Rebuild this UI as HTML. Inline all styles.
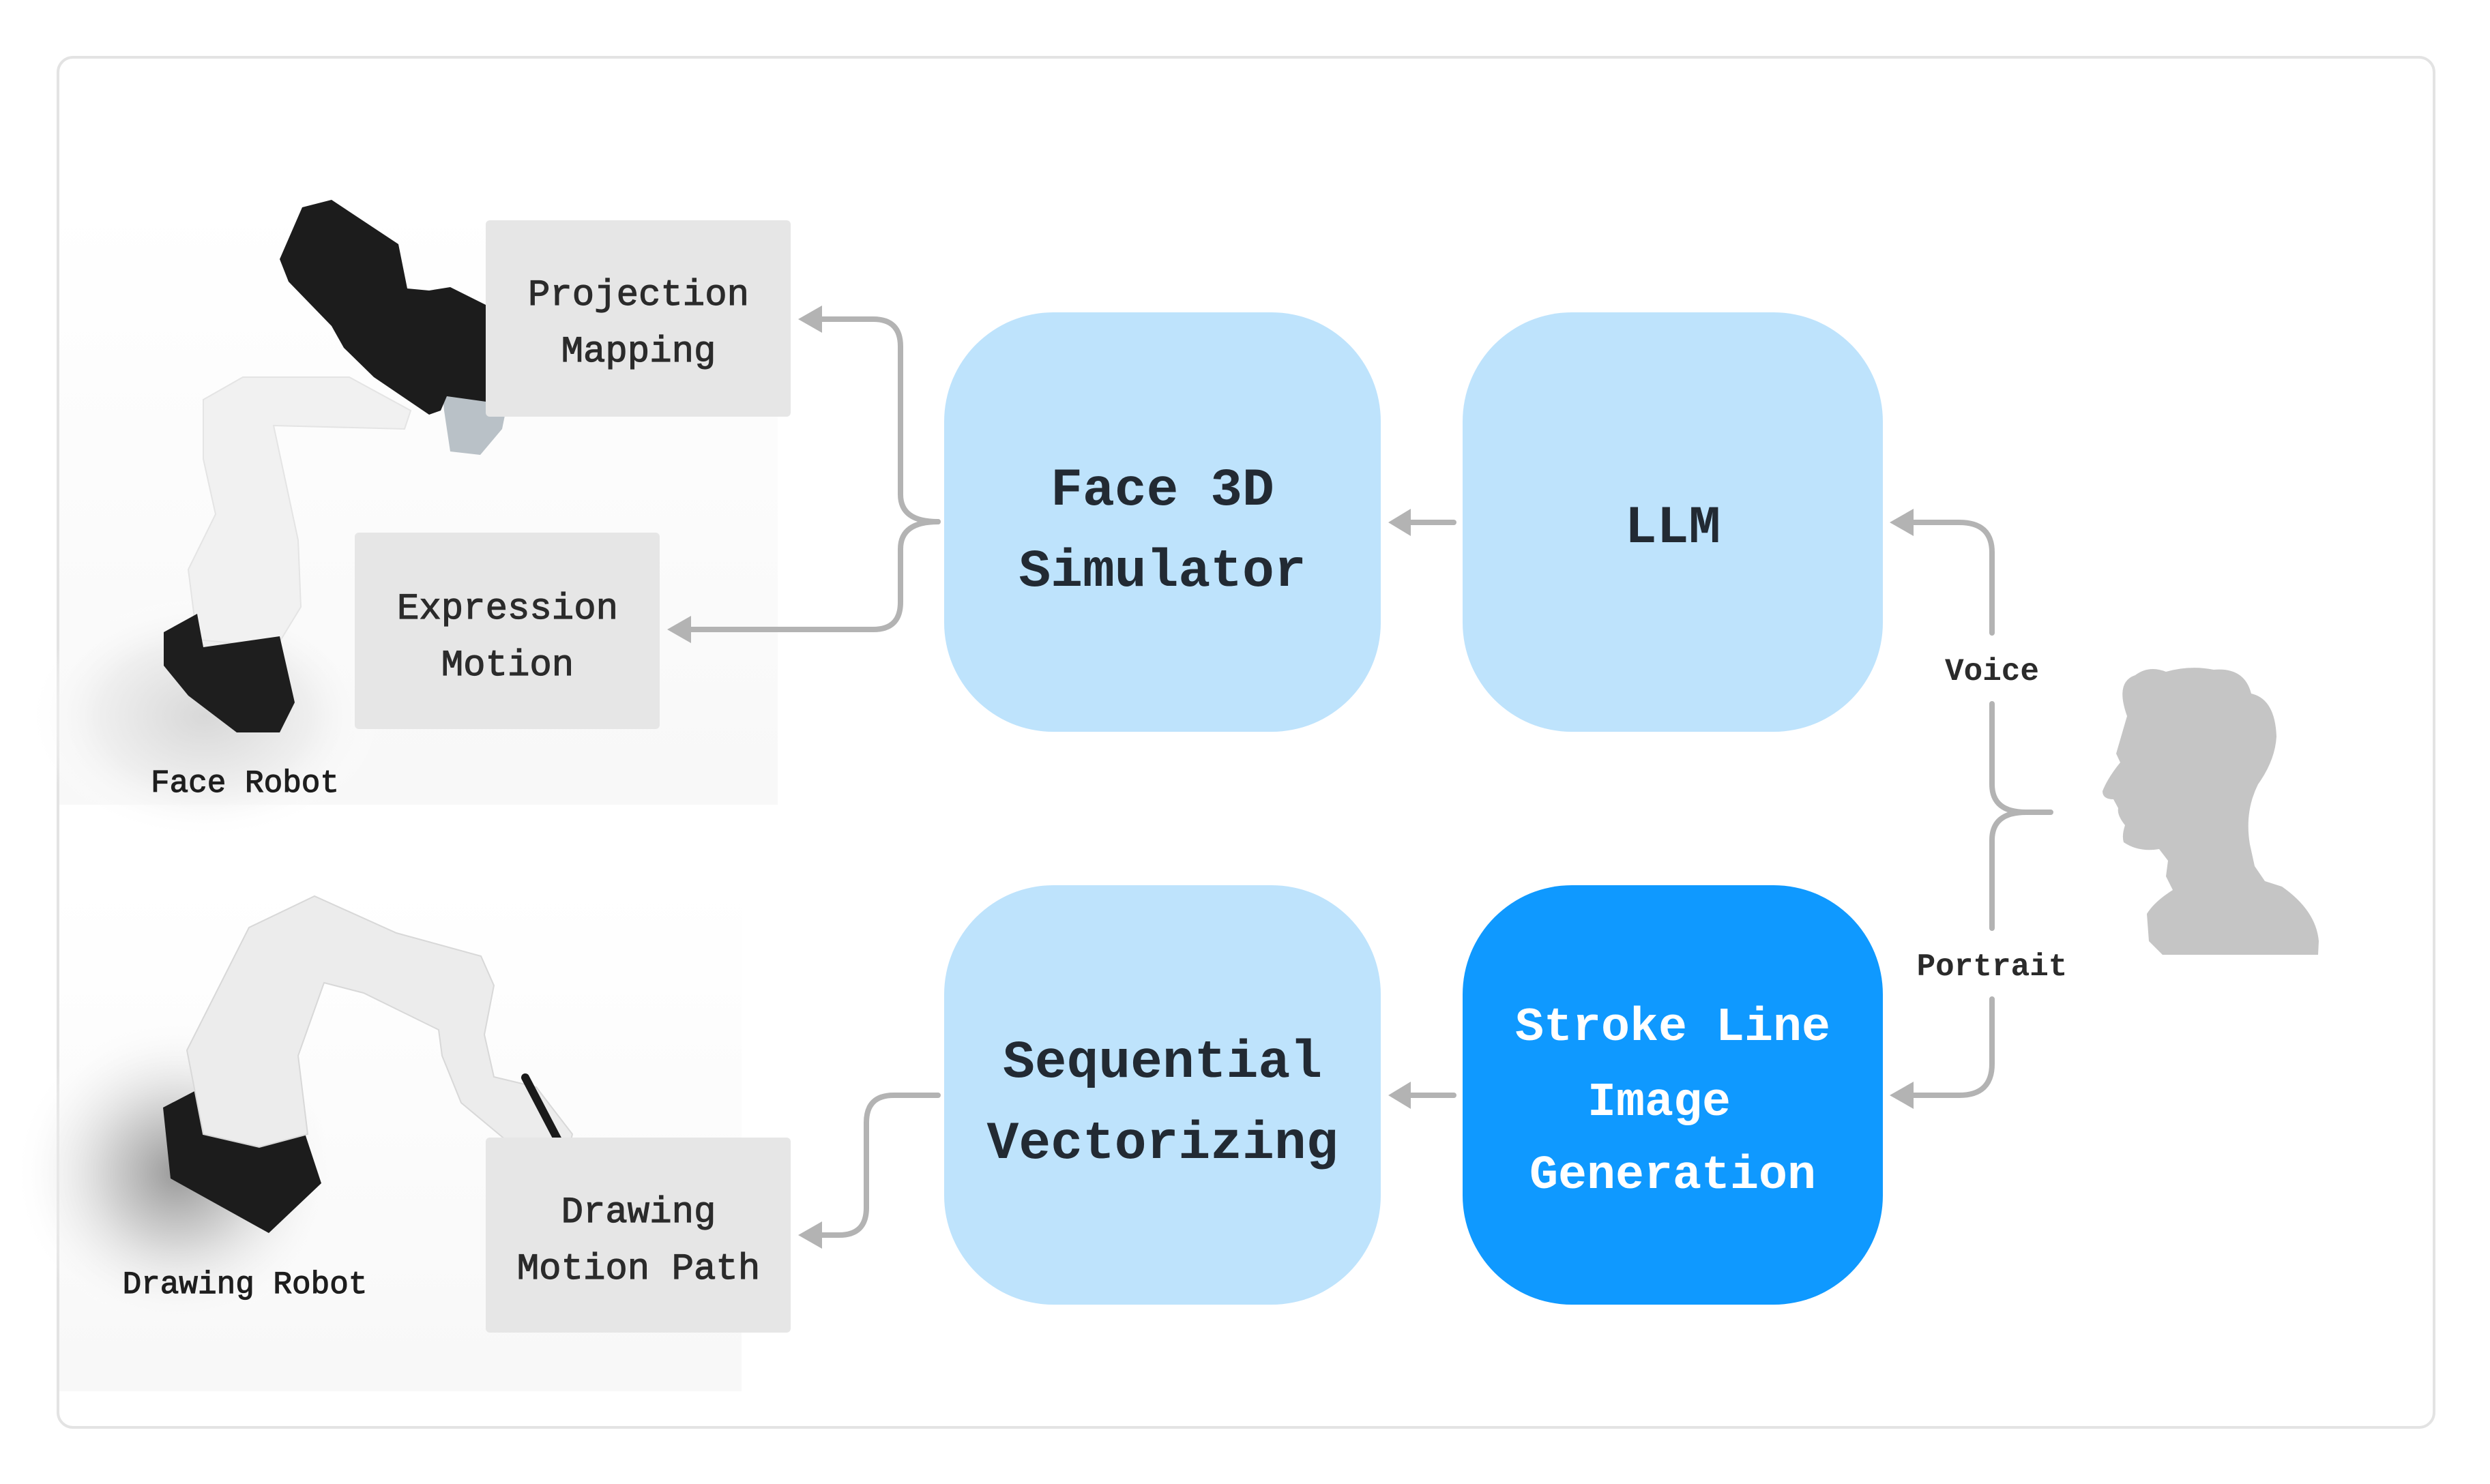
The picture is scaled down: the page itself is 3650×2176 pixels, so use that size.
<!DOCTYPE html>
<html><head><meta charset="utf-8"><style>
html,body{margin:0;padding:0;background:#fff;}
svg{display:block;}
.mono{font-family:"Liberation Mono",monospace;}
</style></head><body>
<svg width="3650" height="2176" viewBox="0 0 3650 2176" xmlns="http://www.w3.org/2000/svg">
<defs>
<radialGradient id="sh1" cx="0.5" cy="0.5" r="0.5">
<stop offset="0" stop-color="#d8d8d8"/><stop offset="0.6" stop-color="#efefef"/><stop offset="1" stop-color="#ffffff" stop-opacity="0"/>
</radialGradient>
<radialGradient id="sh2" cx="0.5" cy="0.5" r="0.5">
<stop offset="0" stop-color="#9a9a9a"/><stop offset="0.5" stop-color="#dddddd"/><stop offset="1" stop-color="#ffffff" stop-opacity="0"/>
</radialGradient>
<linearGradient id="bgp" x1="0" y1="0" x2="0" y2="1">
<stop offset="0" stop-color="#ffffff"/><stop offset="1" stop-color="#f6f6f6"/>
</linearGradient>
</defs>
<rect x="0" y="0" width="3650" height="2176" fill="#fff"/>
<rect x="85" y="84" width="3483" height="2009" rx="22" fill="#fff" stroke="#e3e3e3" stroke-width="4"/>

<rect x="87" y="300" width="1053" height="880" fill="url(#bgp)" opacity="0.8"/>
<ellipse cx="300" cy="1050" rx="260" ry="180" fill="url(#sh1)"/>
<rect x="87" y="1300" width="1000" height="740" fill="url(#bgp)" opacity="0.8"/>
<ellipse cx="260" cy="1720" rx="240" ry="230" fill="url(#sh2)"/>

<!-- face robot -->
<polygon points="298,586 356,553 512,553 602,602 593,629 401,624 437,792 441,890 405,949 289,938 276,835 316,754 298,673" fill="#f1f1f1" stroke="#e4e4e4" stroke-width="2"/>
<polygon points="240,927 289,900 298,949 410,933 432,1030 410,1074 347,1074 276,1020 240,976" fill="#1e1e1e"/>
<polygon points="646,543 758,521 736,629 704,667 660,662 651,602" fill="#b9c1c7"/>
<polygon points="410,380 443,304 486,293 584,358 597,423 629,426 660,421 740,461 760,521 754,586 727,591 655,581 646,602 629,608 548,553 504,510 486,478 423,413" fill="#1c1c1c"/>

<!-- drawing robot -->
<polygon points="239,1624 289,1598 442,1647 471,1735 394,1808 250,1728" fill="#1c1c1c"/>
<polygon points="274,1540 365,1360 461,1314 581,1368 705,1402 724,1445 710,1517 724,1579 786,1594 839,1663 829,1705 772,1697 676,1617 648,1548 643,1510 533,1456 475,1441 437,1548 451,1663 380,1682 298,1663" fill="#ececec" stroke="#d8d8d8" stroke-width="2"/>
<line x1="770" y1="1580" x2="836" y2="1706" stroke="#1a1a1a" stroke-width="12" stroke-linecap="round"/>

<rect x="712" y="323" width="447" height="288" rx="6" fill="#e6e6e6"/>
<rect x="520" y="781" width="447" height="288" rx="6" fill="#e6e6e6"/>
<rect x="712" y="1668" width="447" height="286" rx="6" fill="#e6e6e6"/>
<g class="mono" font-size="54" fill="#2b2b2b" text-anchor="middle" stroke="#2b2b2b" stroke-width="1.2">
<text x="936" y="447">Projection</text>
<text x="936" y="530">Mapping</text>
<text x="744" y="907">Expression</text>
<text x="744" y="990">Motion</text>
<text x="936" y="1792">Drawing</text>
<text x="936" y="1875">Motion Path</text>
</g>
<g class="mono" font-size="46" fill="#1e1e1e" text-anchor="middle" stroke="#1e1e1e" stroke-width="1.2">
<text x="359" y="1161">Face Robot</text>
<text x="359" y="1896">Drawing Robot</text>
</g>

<rect x="1384" y="458" width="640" height="615" rx="160" fill="#bee3fc"/>
<rect x="2144" y="458" width="616" height="615" rx="160" fill="#bee3fc"/>
<rect x="1384" y="1298" width="640" height="615" rx="160" fill="#bee3fc"/>
<rect x="2144" y="1298" width="616" height="615" rx="160" fill="#0f99ff"/>
<g class="mono" font-size="78" font-weight="bold" fill="#222a33" text-anchor="middle">
<text x="1704" y="740">Face 3D</text>
<text x="1704" y="859">Simulator</text>
<text x="2452" y="795">LLM</text>
<text x="1704" y="1579">Sequential</text>
<text x="1704" y="1698">Vectorizing</text>
</g>
<g class="mono" font-size="70" font-weight="bold" fill="#ffffff" text-anchor="middle">
<text x="2452" y="1525">Stroke Line</text>
<text x="2432" y="1635">Image</text>
<text x="2452" y="1742">Generation</text>
</g>

<g fill="none" stroke="#b3b3b3" stroke-width="8" stroke-linecap="round">
<line x1="2131" y1="766" x2="2060" y2="766"/>
<line x1="2131" y1="1606" x2="2060" y2="1606"/>
<path d="M1195,468 H1280 Q1320,468 1320,508 V725 Q1320,765 1375,765"/>
<path d="M1375,765 Q1320,765 1320,805 V883 Q1320,923 1280,923 H1003"/>
<path d="M1375,1606 H1310 Q1270,1606 1270,1646 V1771 Q1270,1811 1230,1811 H1195"/>
<path d="M2795,766 H2872 Q2920,766 2920,810 V928"/>
<path d="M2920,1032 V1150 Q2920,1191 2970,1191 H3006"/>
<path d="M2970,1191 Q2920,1191 2920,1232 V1361"/>
<path d="M2920,1465 V1560 Q2920,1606 2872,1606 H2795"/>
</g>
<g fill="#b3b3b3">
<polygon points="2035,766 2068,746 2068,786"/>
<polygon points="2035,1606 2068,1586 2068,1626"/>
<polygon points="1170,468 1205,448 1205,488"/>
<polygon points="978,923 1013,903 1013,943"/>
<polygon points="1170,1811 1205,1791 1205,1831"/>
<polygon points="2770,766 2805,746 2805,786"/>
<polygon points="2770,1606 2805,1586 2805,1626"/>
</g>
<g class="mono" font-size="46" font-weight="bold" fill="#2b2b2b" text-anchor="middle">
<text x="2920" y="997">Voice</text>
<text x="2920" y="1430">Portrait</text>
</g>

<path d="M3118,1050 Q3100,1000 3130,990 Q3150,975 3175,985 Q3210,975 3245,982 Q3290,978 3300,1017 Q3335,1025 3337,1080 Q3335,1115 3310,1150 Q3290,1190 3298,1238 L3305,1270 L3320,1292 L3345,1300 Q3395,1335 3399,1380 L3398,1400 L3170,1400 L3150,1380 L3147,1340 Q3158,1322 3185,1305 L3175,1285 L3178,1262 L3165,1245 Q3135,1250 3113,1235 Q3110,1225 3115,1210 Q3103,1195 3105,1185 L3098,1172 Q3082,1172 3082,1160 Q3090,1140 3108,1118 L3102,1105 Z" fill="#c5c5c5"/>
</svg>
</body></html>
